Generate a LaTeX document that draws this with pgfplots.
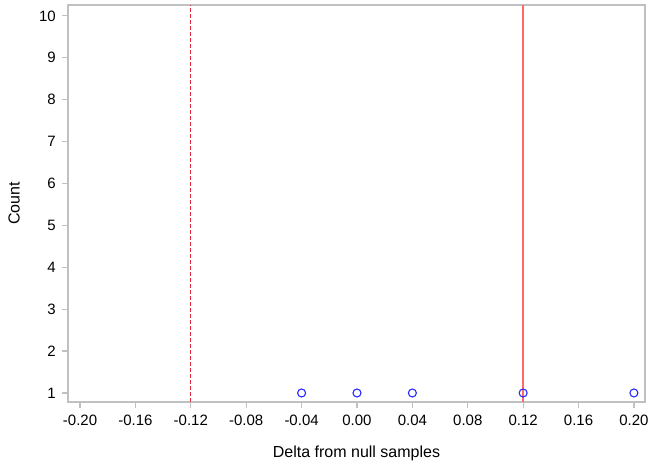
\documentclass[border=0pt]{standalone}
\usepackage{pgfplots}
\pgfplotsset{compat=1.18}
\usepackage{fontspec}
\setmainfont{Liberation Sans}
\definecolor{axgray}{RGB}{190,192,194}
\definecolor{ptblue}{RGB}{40,40,255}
\definecolor{lnred}{RGB}{255,105,105}
\definecolor{dshred}{RGB}{225,45,60}
\begin{document}
\fontsize{15}{18}\selectfont
\begin{tikzpicture}
\begin{axis}[
    scale only axis,
    width=577pt, height=397pt,
    xmin=-0.2087, xmax=0.2080,
    ymin=0.785, ymax=10.26,
    xtick={-0.20,-0.16,...,0.21},
    ytick={1,2,...,10},
    x tick label style={/pgf/number format/fixed, /pgf/number format/fixed zerofill, /pgf/number format/precision=2, yshift=-2pt},
    /pgf/number format/assume math mode=true,
    tick align=outside,
    tick pos=left,
    major tick length=6pt,
    axis line style={axgray, line width=1.2pt},
    every tick/.style={axgray, line width=1.2pt},
    xlabel={Delta from null samples},
    ylabel={Count},
    every axis x label/.style={at={(axis description cs:0.5,-0.1285)}, anchor=center},
    every axis y label/.style={at={(axis description cs:-0.0936,0.5)}, rotate=90, anchor=center},
    y tick label style={xshift=-1pt},
    ticklabel style={font=\fontsize{15}{18}\selectfont},
    label style={font=\fontsize{16}{19}\selectfont},
    clip=false,
]
\addplot[dshred, line width=0.9pt, dash pattern=on 4pt off 2pt] coordinates {(-0.12,0.785) (-0.12,10.26)};
\addplot[lnred, line width=1.8pt] coordinates {(0.12,0.785) (0.12,10.26)};
\addplot[only marks, mark=o, mark size=4pt, ptblue, mark options={line width=1.1pt}] coordinates {
    (-0.04,1) (0.00,1) (0.04,1) (0.12,1) (0.20,1)
};
\end{axis}
\path ([xshift=-68pt,yshift=-68pt]current axis.south west) rectangle ([xshift=9pt,yshift=5pt]current axis.north east);
\end{tikzpicture}
\end{document}
